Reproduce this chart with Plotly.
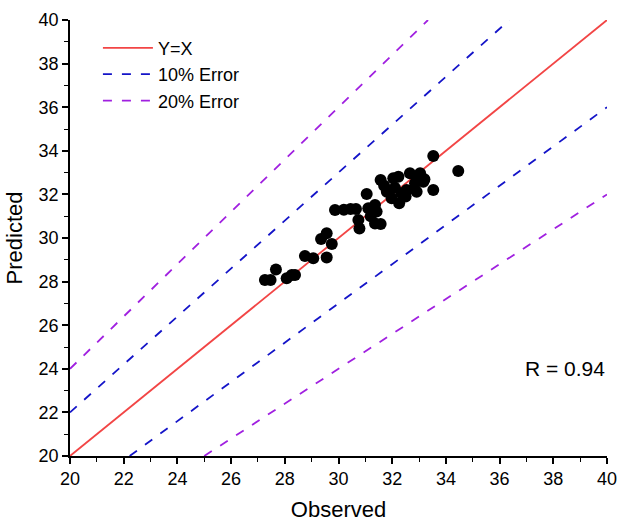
import plotly.graph_objects as go
import numpy as np

# Observed / predicted values
observed = [27.26, 27.47, 27.67, 28.07, 28.26, 28.38, 28.75, 29.06, 29.56, 29.35,
            29.56, 29.75, 29.87, 30.45, 30.65, 30.74, 30.78, 31.05, 31.11, 31.36,
            31.42, 31.36, 31.57, 31.57, 31.80, 31.98, 32.04, 32.23, 32.26, 32.35,
            32.54, 32.66, 32.85, 32.91, 33.04, 33.16, 33.53, 33.53, 34.46,
            30.20, 31.20, 32.10, 32.90, 33.20, 31.70, 32.50]
predicted = [28.07, 28.07, 28.56, 28.15, 28.30, 28.30, 29.17, 29.07, 29.11, 29.95,
             30.22, 29.72, 31.28, 31.33, 31.33, 30.83, 30.44, 32.02, 31.36, 31.51,
             31.21, 30.67, 30.64, 32.66, 32.12, 31.82, 32.74, 32.81, 31.59, 32.05,
             32.20, 32.97, 32.51, 32.12, 32.97, 32.58, 33.76, 32.20, 33.07,
             31.30, 31.00, 32.30, 32.80, 32.70, 32.40, 31.90]

axis_min, axis_max = 20, 40
slopes_10 = [1.1, 0.9]
slopes_20 = [1.2, 0.8]
r_value = 0.94


def line_xy(slope):
    x0 = max(axis_min, axis_min / slope)
    x1 = min(axis_max, axis_max / slope)
    xs = np.array([x0, x1])
    return xs, slope * xs


fig = go.Figure()

fig.add_trace(go.Scatter(x=[axis_min, axis_max], y=[axis_min, axis_max], mode="lines",
                         name="Y=X", line=dict(color="#F24545", width=1.8)))
for i, s in enumerate(slopes_10):
    xs, ys = line_xy(s)
    fig.add_trace(go.Scatter(x=xs, y=ys, mode="lines", name="10% Error",
                             showlegend=(i == 0), legendgroup="10",
                             line=dict(color="#1414C8", width=1.8, dash="9px,10px")))
for i, s in enumerate(slopes_20):
    xs, ys = line_xy(s)
    fig.add_trace(go.Scatter(x=xs, y=ys, mode="lines", name="20% Error",
                             showlegend=(i == 0), legendgroup="20",
                             line=dict(color="#A020E0", width=1.8, dash="9px,10px")))

fig.add_trace(go.Scatter(x=observed, y=predicted, mode="markers", showlegend=False,
                         marker=dict(color="black", size=12)))

font_family = "Liberation Sans, Arial, sans-serif"
axis_common = dict(range=[axis_min, axis_max], dtick=2, tick0=0, showgrid=False, zeroline=False,
                   showline=True, linecolor="black", linewidth=1.5, automargin=False,
                   ticks="outside", ticklen=6, tickwidth=1.5, tickcolor="black",
                   ticklabeloverflow="allow",
                   tickfont=dict(size=18, color="black", family=font_family),
                   minor=dict(dtick=1, ticks="outside", ticklen=4, tickwidth=1.2, tickcolor="black"))

fig.update_layout(
    width=617, height=522,
    margin=dict(l=70, r=10, t=20, b=66),
    paper_bgcolor="white", plot_bgcolor="white",
    font=dict(family=font_family, color="black"),
    xaxis=dict(**axis_common, title=dict(text="Observed", font=dict(size=22), standoff=16)),
    yaxis=dict(**axis_common, title=dict(text="Predicted", font=dict(size=22), standoff=10)),
    legend=dict(x=0.052, y=0.978, xanchor="left", yanchor="top", bgcolor="rgba(0,0,0,0)",
                itemwidth=50, font=dict(size=18, color="black"), tracegroupgap=0),
    annotations=[dict(x=1.0, y=0.2, xref="paper", yref="paper", xanchor="right", yanchor="middle",
                      text=f"R = {r_value}", showarrow=False, font=dict(size=21, color="black"))],
)

fig.write_html("out.html")
